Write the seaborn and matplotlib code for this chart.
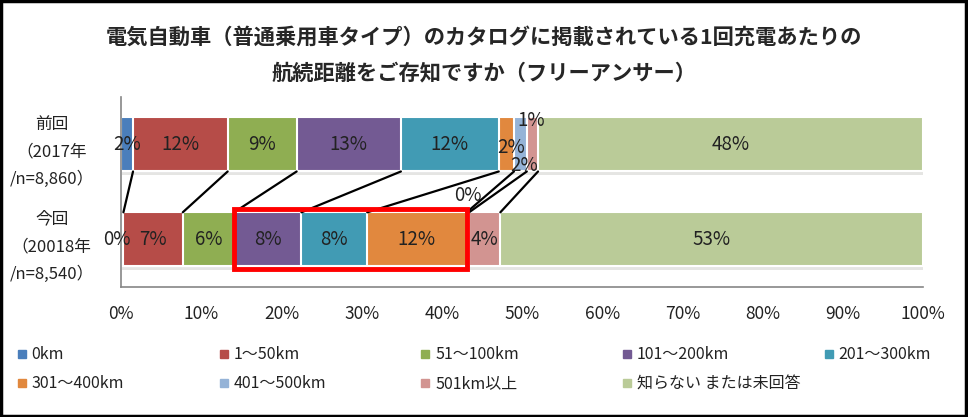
import numpy as np
import pandas as pd
import seaborn as sns
import matplotlib.pyplot as plt
from matplotlib.patches import Rectangle
from matplotlib.lines import Line2D
import matplotlib.patheffects as pe

sns.set_style("white")
plt.rcParams['font.family'] = ['Noto Sans CJK JP', 'DejaVu Sans']

# data
groups = ["前回\n（2017年\n/n=8,860）", "今回\n（20018年\n/n=8,540）"]
series = ["0km", "1～50km", "51～100km", "101～200km", "201～300km",
          "301～400km", "401～500km", "501km以上", "知らない または未回答"]
prev_vals = [1.5, 11.8, 8.6, 13.0, 12.2, 1.9, 1.6, 1.4, 48.0]
curr_vals = [0.3, 7.4, 6.4, 8.4, 8.2, 12.4, 0.3, 3.9, 52.7]
colors = ["#4A7EBB", "#B64C48", "#8FAE52", "#735A93", "#419BB4",
          "#E1883E", "#95B3D7", "#D29491", "#BACB98"]

vals = np.array([prev_vals, curr_vals])
cum = vals.cumsum(axis=1)
h = 0.57

fig = plt.figure(figsize=(9.68, 4.17), dpi=100)
ax = fig.add_axes([0.125, 0.312, 0.8285, 0.4556])

# stacked bars: draw cumulative totals from longest to shortest
for i in range(len(series) - 1, -1, -1):
    df = pd.DataFrame({"group": groups, "value": cum[:, i]})
    sns.barplot(data=df, x="value", y="group", color=colors[i], width=h,
                edgecolor="white", linewidth=1.5, errorbar=None, ax=ax,
                saturation=1)
    if i == len(series) - 1:
        for p in ax.patches:
            p.set_path_effects([pe.SimplePatchShadow(offset=(0.5, -2.5), alpha=0.13),
                                pe.Normal()])

ax.set_xlim(0, 100)
ax.set_ylim(1.5, -0.5)
ax.set_xlabel("")
ax.set_ylabel("")
ax.set_xticks(np.arange(0, 101, 10))
ax.set_xticklabels([f"{t}%" for t in range(0, 101, 10)], fontsize=12.5, color="#222222")
ax.tick_params(axis="x", length=0, pad=13)
ax.tick_params(axis="y", length=0, pad=50)
for lab in ax.get_yticklabels():
    lab.set_ha("center")
    lab.set_multialignment("center")
    lab.set_fontsize(12)
    lab.set_linespacing(1.8)
    lab.set_color("#222222")
for s in ["top", "right"]:
    ax.spines[s].set_visible(False)
for s in ["left", "bottom"]:
    ax.spines[s].set_color("#868686")
    ax.spines[s].set_linewidth(1.2)

# series lines between the two bars
for i in range(len(series) - 1):
    ax.plot([cum[0, i], cum[1, i]], [h / 2, 1 - h / 2], color="black", lw=1.6, zorder=5)

# data labels
offsets = {(0, 5): (0.6, 0.03), (0, 6): (0.4, 0.22), (0, 7): (-0.2, -0.25),
           (1, 0): (-0.7, 0.0), (1, 6): (0.0, -0.46)}
for g in range(2):
    for i in range(len(series)):
        x = cum[g, i] - vals[g, i] / 2
        dx, dy = offsets.get((g, i), (0, 0))
        ax.text(x + dx, g + dy, f"{vals[g, i]:.0f}%", ha="center", va="center",
                fontsize=13.5, color="#222222", zorder=6)

# highlight box
x0 = cum[1, 2]
ax.add_patch(Rectangle((x0, 1 - h / 2 - 0.03), cum[1, 5] - x0, h + 0.06,
                       fill=False, ec="#FF0000", lw=3.5, zorder=7, clip_on=False))

# title
fig.text(0.5, 0.91, "電気自動車（普通乗用車タイプ）のカタログに掲載されている1回充電あたりの",
         ha="center", va="center", fontsize=15.3, fontweight="bold")
fig.text(0.5, 0.825, "航続距離をご存知ですか（フリーアンサー）",
         ha="center", va="center", fontsize=15.3, fontweight="bold")

# legend, five equal columns
for j in range(5):
    idx = [k for k in (j, j + 5) if k < len(series)]
    handles = [Line2D([], [], marker="s", ls="none", color=colors[k], markersize=6) for k in idx]
    leg = fig.legend(handles, [series[k] for k in idx], loc="upper left",
                     bbox_to_anchor=(0.011 + j * 0.2085, 0.185), frameon=False,
                     fontsize=11.5, handlelength=0.6, handletextpad=0.3,
                     labelspacing=0.75, borderaxespad=0)
    for t in leg.get_texts():
        t.set_color("#222222")

fig.add_artist(Rectangle((0.001, 0.002), 0.997, 0.995, transform=fig.transFigure,
                         fill=False, ec="black", lw=2.5))

fig.savefig("out.png", dpi=100)
